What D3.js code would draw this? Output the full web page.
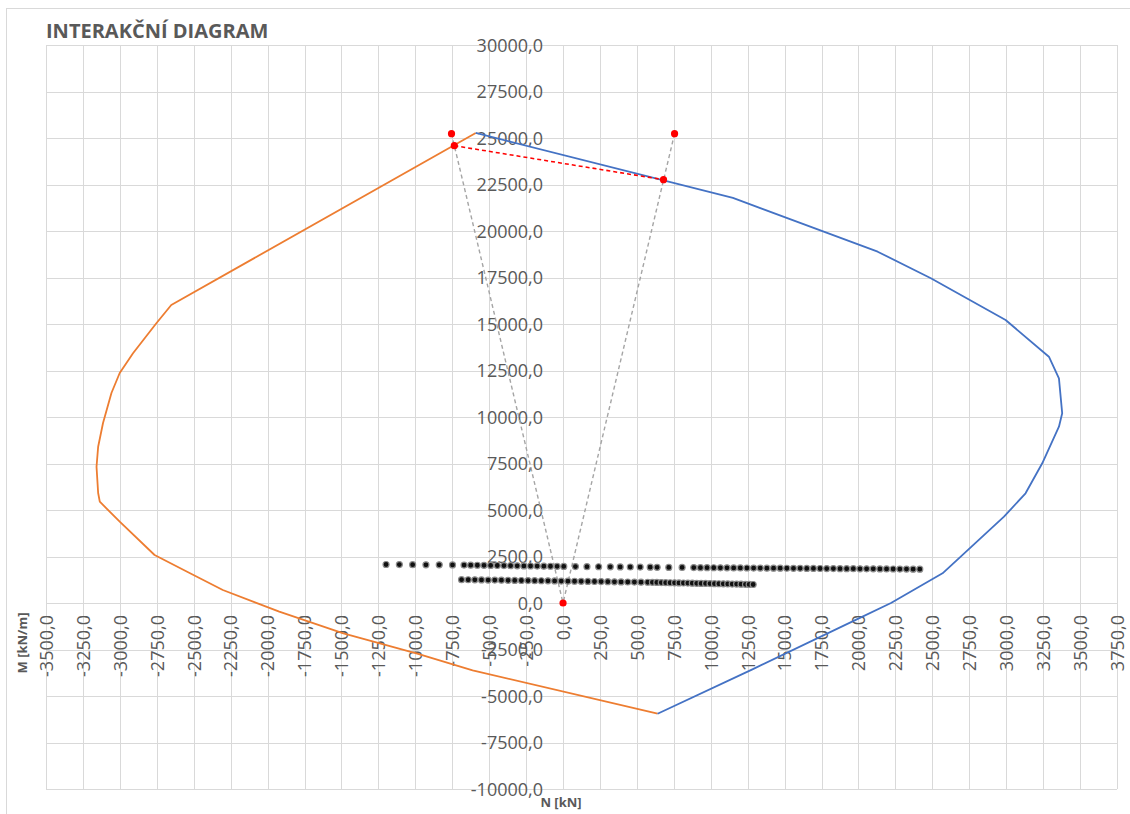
<!DOCTYPE html>
<html>
<head>
<meta charset="utf-8">
<script src="https://cdn.jsdelivr.net/npm/d3@7"></script>
<style>
  html, body { margin: 0; padding: 0; background: #fff; }
  svg { display: block; }
  text { font-family: "Open Sans", "Liberation Sans", sans-serif; }
</style>
</head>
<body>
<svg id="chart" width="1130" height="814"></svg>
<script>
// Axis ticks
const xTickValues = [-3500,-3250,-3000,-2750,-2500,-2250,-2000,-1750,-1500,-1250,-1000,-750,-500,-250,0,250,500,750,1000,1250,1500,1750,2000,2250,2500,2750,3000,3250,3500,3750];
const yTickValues = [-10000,-7500,-5000,-2500,0,2500,5000,7500,10000,12500,15000,17500,20000,22500,25000,27500,30000];

// Interaction diagram – left branch (N [kN], M [kN/m])
const orangeN = [-591,-2652,-2753,-2911,-3001,-3057,-3114,-3147,-3158,-3147,-3136,-3001,-2765,-2528,-2303,-1921,-1487,-987,-612,640];
const orangeM = [25269,16022,15038,13425,12366,11290,9677,8403,7328,5914,5446,4371,2581,1613,699,-468,-1630,-2717,-3623,-5952];

// Interaction diagram – right branch
const blueN = [-591,1150,2130,2490,2996,3289,3357,3379,3357,3244,3131,2985,2692,2569,2220,1985,1282,640];
const blueM = [25269,21780,18887,17457,15215,13242,12081,10199,9478,7511,5898,4640,2489,1597,0,-893,-3571,-5952];

// Reference points and construction lines
const refN = [-755,-736,680,755,0];
const refM = [25230,24586,22758,25230,0];
const rayTopN = [-755,755];
const rayTopM = [25230,25230];
const chordN = [-736,680];
const chordM = [24586,22758];

// Load combinations – row 1
const load1N = [-1198,-1108,-1018,-928,-838,-748,
  -670,-625,-580,-535,-490,-445,-400,-355,-310,-265,-220,-175,-130,-85,-40,5,
  84,162,241,320,387,455,522,590,637,716,806,
  885,930,975,1020,1065,1110,1155,1200,1245,1290,1335,1380,1425,1470,1515,1560,1605,1650,1695,1740,1785,1830,1875,1920,1965,2010,2055,2100,2145,2190,2235,2280,2325,2370,2415];
const load1M = [2070,2065,2060,2055,2050,2045,
  2040,2035,2030,2025,2020,2015,2010,2005,2000,1995,1990,1985,1980,1975,1970,1965,
  1960,1955,1950,1945,1940,1935,1930,1925,1920,1915,1910,
  1905,1900,1898,1895,1893,1890,1888,1885,1883,1880,1878,1875,1873,1870,1868,1865,1863,1860,1858,1855,1853,1850,1848,1845,1843,1840,1838,1835,1833,1830,1828,1825,1823,1820,1818];

// Load combinations – row 2
const load2N = [-687,-642,-597,-552,-507,-462,-417,-372,-327,-282,-237,-192,-147,-102,-57,-12,33,78,123,168,213,258,303,348,393,438,483,528,573,
  605,635,665,695,725,755,785,815,845,875,905,935,965,995,1025,1055,1085,1115,1145,1175,1205,1235,1260,1287];
const load2M = [1255,1250,1245,1240,1235,1230,1225,1220,1215,1210,1205,1200,1195,1190,1185,1180,1175,1170,1165,1160,1155,1150,1145,1140,1135,1130,1125,1120,1115,
  1110,1105,1100,1095,1090,1085,1080,1075,1070,1065,1060,1055,1050,1045,1040,1035,1030,1025,1020,1015,1010,1005,1000,995];

const zip = (a, b) => a.slice(0, Math.min(a.length, b.length)).map((v, i) => [v, b[i]]);

const svg = d3.select("#chart");
const W = 1130, H = 814;
const plot = { left: 46, right: 1117, top: 45, bottom: 789 };

const x = d3.scaleLinear().domain([-3500, 3750]).range([plot.left, plot.right]);
const y = d3.scaleLinear().domain([-10000, 30000]).range([plot.bottom, plot.top]);

const loc = d3.formatLocale({ decimal: ",", thousands: "", grouping: [3], currency: ["", ""], minus: "-" });
const fmt = loc.format(".1f");

const textColor = "#595959";
const gridColor = "#d9d9d9";

// chart frame
svg.append("rect")
  .attr("x", 6.5).attr("y", 8.5)
  .attr("width", W + 10).attr("height", H + 10)
  .attr("fill", "#fff").attr("stroke", gridColor).attr("stroke-width", 1);

// title
svg.append("text")
  .attr("x", 46).attr("y", 38)
  .attr("font-size", 20).attr("font-weight", 700)
  .attr("fill", textColor)
  .text("INTERAKČNÍ DIAGRAM");

// gridlines
const grid = svg.append("g");
grid.selectAll("line.v").data(xTickValues).join("line")
  .attr("x1", d => Math.round(x(d)) + 0.5).attr("x2", d => Math.round(x(d)) + 0.5)
  .attr("y1", plot.top).attr("y2", plot.bottom)
  .attr("stroke", gridColor).attr("stroke-width", 1);
grid.selectAll("line.h").data(yTickValues).join("line")
  .attr("y1", d => Math.round(y(d)) + 0.5).attr("y2", d => Math.round(y(d)) + 0.5)
  .attr("x1", plot.left).attr("x2", plot.right)
  .attr("stroke", gridColor).attr("stroke-width", 1);

// y tick labels, placed left of the vertical axis at N = 0
const yAxis = d3.axisLeft(y).tickValues(yTickValues).tickFormat(fmt).tickSize(0).tickPadding(0);
const gy = svg.append("g").attr("transform", `translate(${x(0) - 20},0)`).call(yAxis);
gy.select(".domain").remove();
gy.selectAll("text")
  .attr("font-size", 18).attr("fill", textColor)
  .attr("font-family", "Open Sans, sans-serif")
  .attr("x", 0).attr("dy", "0.35em");

// x tick labels, rotated, hanging below the horizontal axis at M = 0
const xAxis = d3.axisBottom(x).tickValues(xTickValues).tickFormat(fmt).tickSize(0).tickPadding(0);
const gx = svg.append("g").attr("transform", `translate(0,${y(0)})`).call(xAxis);
gx.select(".domain").remove();
gx.selectAll("text")
  .attr("font-size", 18).attr("fill", textColor)
  .attr("font-family", "Open Sans, sans-serif")
  .attr("text-anchor", "end")
  .attr("transform", "rotate(-90)")
  .attr("x", -12).attr("y", 0).attr("dy", "0.35em");

// axis titles
svg.append("text")
  .attr("transform", "translate(27,643) rotate(-90)")
  .attr("text-anchor", "middle")
  .attr("font-size", 13).attr("font-weight", 700).attr("fill", textColor)
  .text("M [kN/m]");
svg.append("text")
  .attr("x", 561).attr("y", 807)
  .attr("text-anchor", "middle")
  .attr("font-size", 13).attr("font-weight", 700).attr("fill", textColor)
  .text("N [kN]");

const line = d3.line().x(d => x(d[0])).y(d => y(d[1]));

// construction rays from the top reference points to the origin
zip(rayTopN, rayTopM).forEach(p => {
  svg.append("path")
    .attr("d", line([p, [0, 0]]))
    .attr("fill", "none").attr("stroke", "#a5a5a5")
    .attr("stroke-width", 1.4).attr("stroke-dasharray", "4,3");
});

// load combinations
const dots = svg.append("g");
[zip(load1N, load1M), zip(load2N, load2M)].forEach(pts => {
  dots.selectAll(null).data(pts).join("circle")
    .attr("cx", d => x(d[0])).attr("cy", d => y(d[1]))
    .attr("r", 3)
    .attr("fill", "#111").attr("stroke", "#8c8c8c").attr("stroke-width", 1.2);
});

// interaction diagram branches
svg.append("path").attr("d", line(zip(orangeN, orangeM)))
  .attr("fill", "none").attr("stroke", "#ED7D31").attr("stroke-width", 1.8)
  .attr("stroke-linejoin", "round");
svg.append("path").attr("d", line(zip(blueN, blueM)))
  .attr("fill", "none").attr("stroke", "#4472C4").attr("stroke-width", 1.8)
  .attr("stroke-linejoin", "round");

// chord between the intersection points
svg.append("path").attr("d", line(zip(chordN, chordM)))
  .attr("fill", "none").attr("stroke", "#ff0000")
  .attr("stroke-width", 1.6).attr("stroke-dasharray", "4,3");

// reference points
svg.append("g").selectAll("circle").data(zip(refN, refM)).join("circle")
  .attr("cx", d => x(d[0])).attr("cy", d => y(d[1]))
  .attr("r", 3.6).attr("fill", "#ff0000");
</script>
</body>
</html>
